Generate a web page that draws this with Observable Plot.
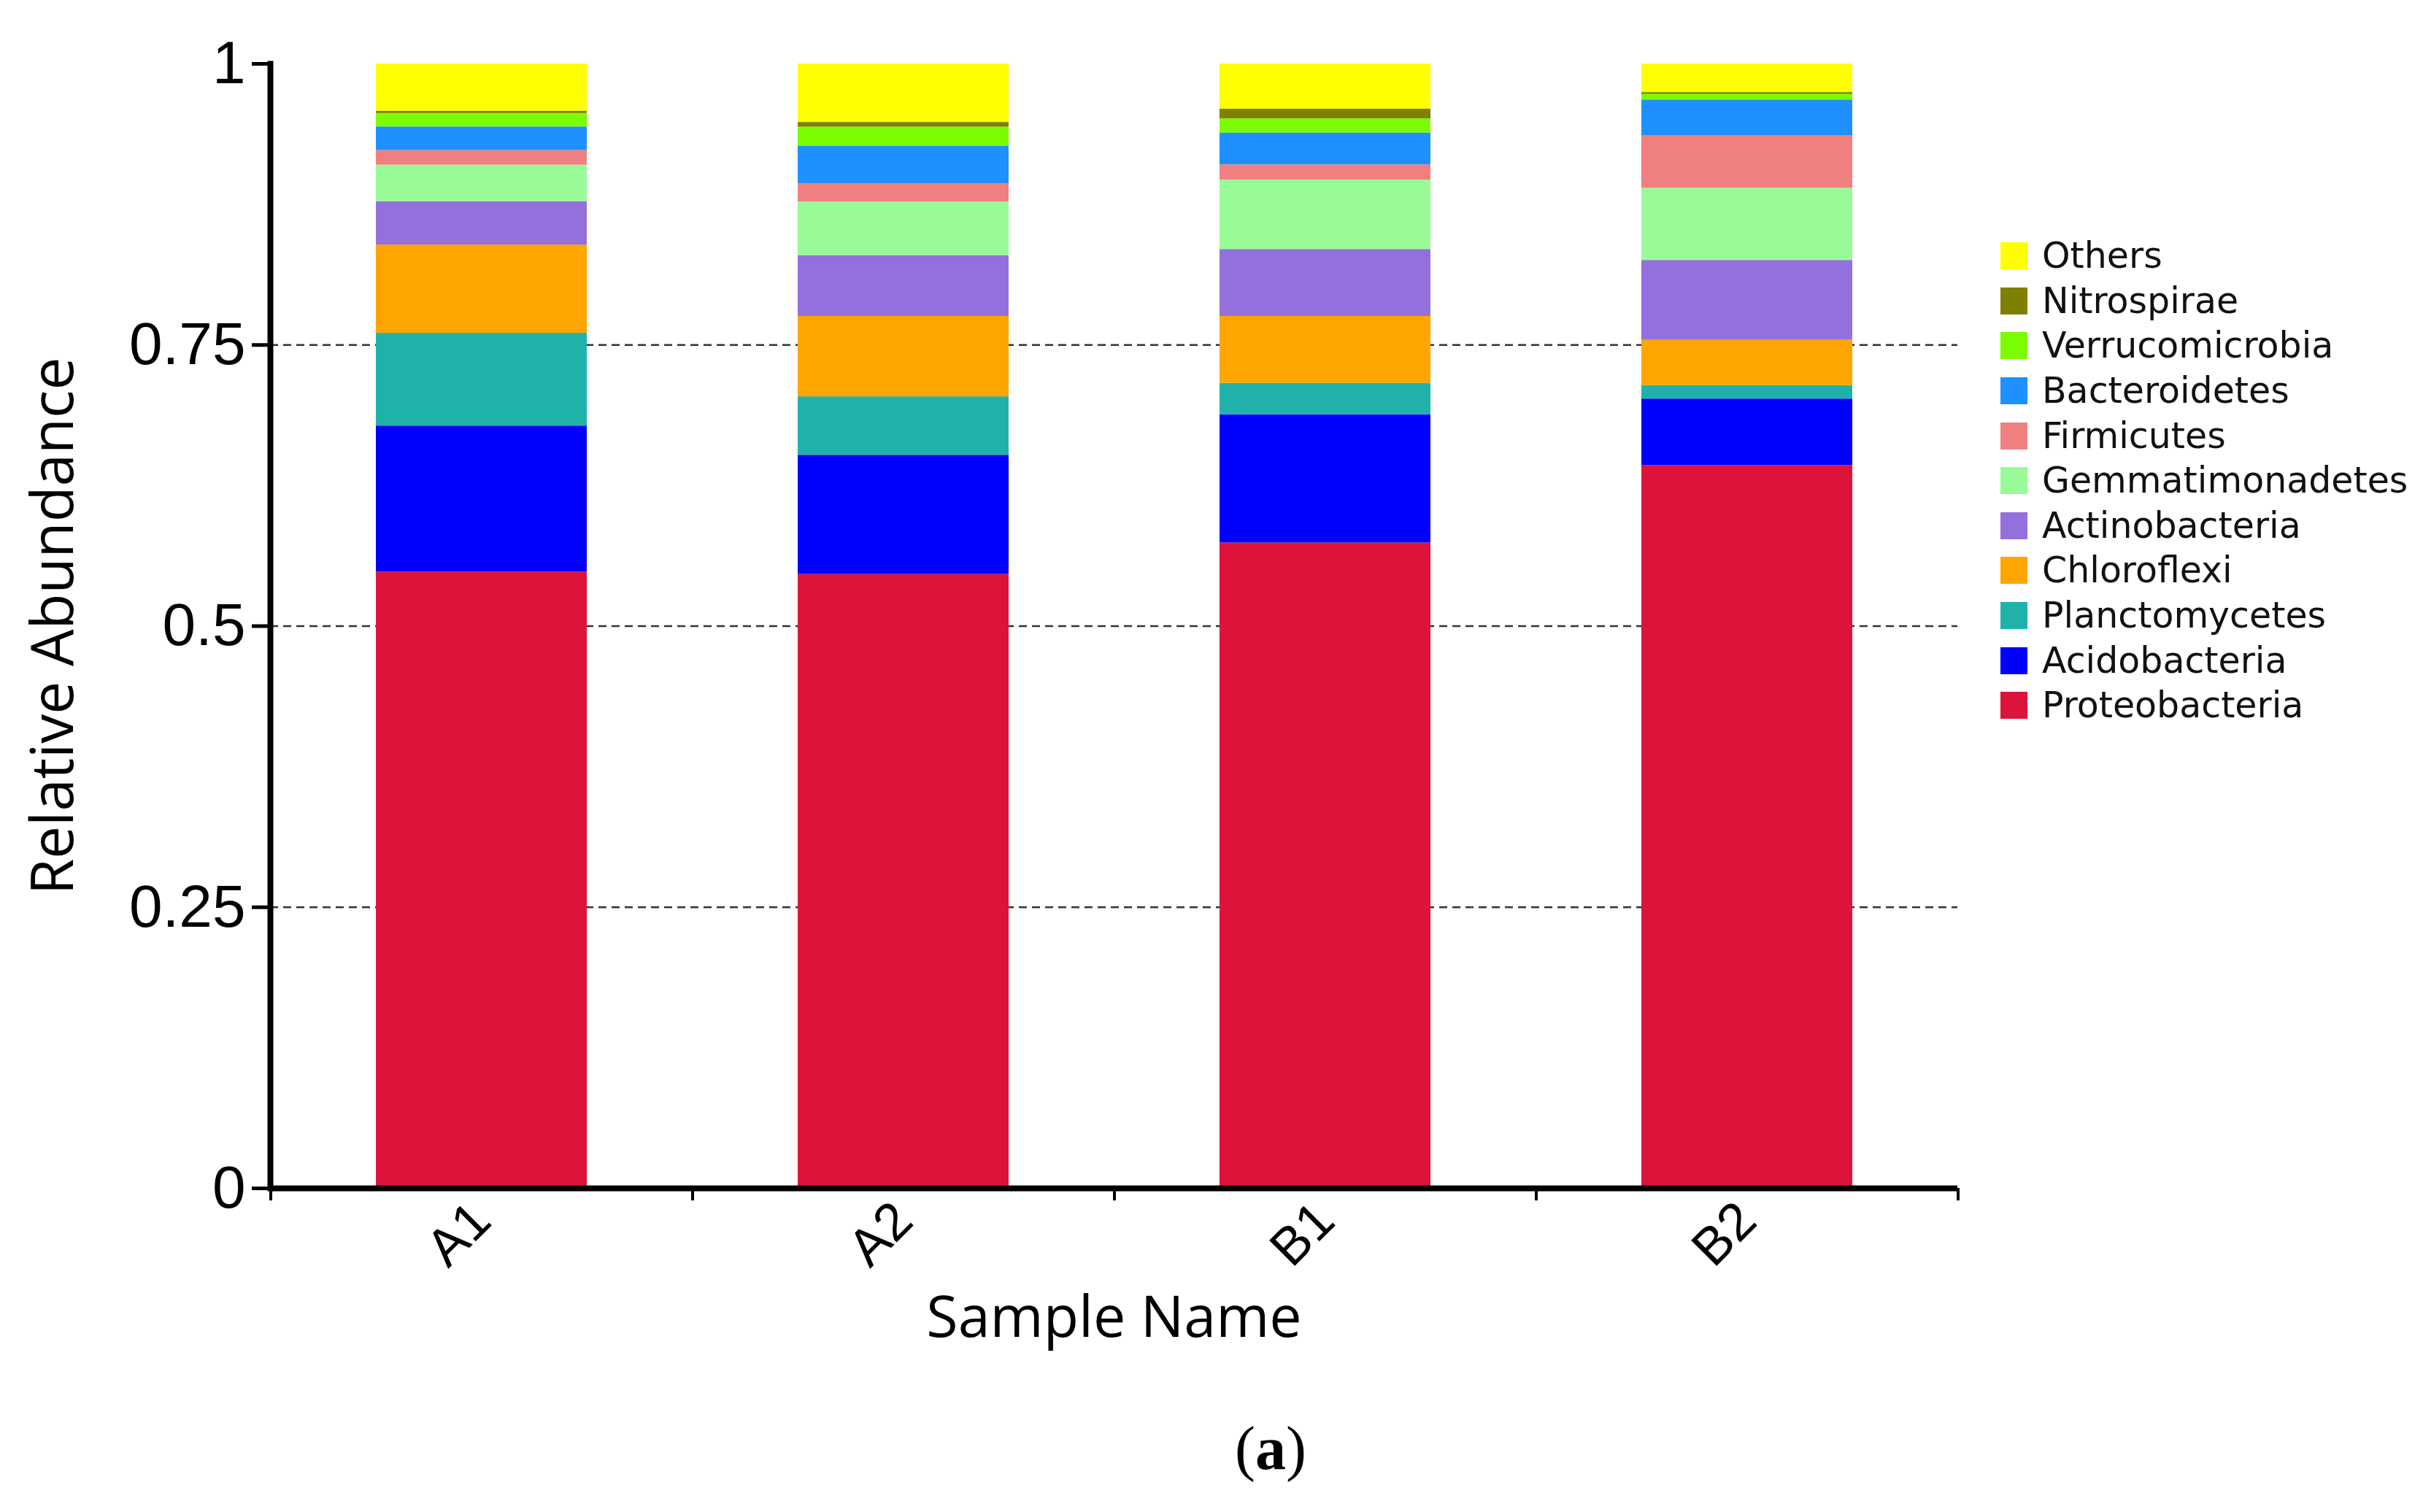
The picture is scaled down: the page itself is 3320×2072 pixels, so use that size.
<!DOCTYPE html>
<html><head><meta charset="utf-8">
<script src="https://cdn.jsdelivr.net/npm/d3@7"></script>
<script src="https://cdn.jsdelivr.net/npm/@observablehq/plot@0.6"></script>
<style>
body{margin:0;background:#fff}
#wrap{position:relative;width:3320px;height:2072px;background:#fff;overflow:hidden}
#chart{position:absolute;left:0;top:0}
#legend{position:absolute;left:2741px;top:320px}
.leg-swatches{margin:0 !important}
.leg-swatch{height:61.6px;padding-bottom:0 !important}
.leg-swatch > svg{margin-right:20px}
#caption{position:absolute;left:1541px;width:400px;top:1943px;text-align:center;font-family:"Liberation Serif";font-size:84px;line-height:1;color:#000}
</style></head><body>
<div id="wrap"><div id="chart"></div><div id="legend"></div><div id="caption">(<b>a</b>)</div></div>
<script>
const samples = ["A1","A2","B1","B2"];
const phyla = ["Proteobacteria","Acidobacteria","Planctomycetes","Chloroflexi","Actinobacteria","Gemmatimonadetes","Firmicutes","Bacteroidetes","Verrucomicrobia","Nitrospirae","Others"];
const colors = ["#DC143C","#0000FF","#20B2AA","#FFA500","#9370DB","#98FB98","#F08080","#1E90FF","#7CFC00","#808000","#FFFF00"];
const proteobacteria   = [0.548, 0.546, 0.574, 0.643];
const acidobacteria    = [0.130, 0.106, 0.114, 0.059];
const planctomycetes   = [0.0825, 0.052, 0.028, 0.012];
const chloroflexi      = [0.0785, 0.0715, 0.0595, 0.0403];
const actinobacteria   = [0.0386, 0.0541, 0.0595, 0.071];
const gemmatimonadetes = [0.0324, 0.0476, 0.0617, 0.0642];
const firmicutes       = [0.013, 0.0162, 0.0136, 0.0465];
const bacteroidetes    = [0.021, 0.0336, 0.0283, 0.032];
const verrucomicrobia  = [0.012, 0.0168, 0.0126, 0.0049];
const nitrospirae      = [0.002, 0.0042, 0.0087, 0.0017];
const others           = [0.042, 0.052, 0.0401, 0.0254];
const yTicks = [0, 0.25, 0.5, 0.75, 1];
const gridTicks = [0.25, 0.5, 0.75];
const yLabel = "Relative Abundance";
const xLabel = "Sample Name";

const series = [proteobacteria, acidobacteria, planctomycetes, chloroflexi, actinobacteria, gemmatimonadetes, firmicutes, bacteroidetes, verrucomicrobia, nitrospirae, others];
const table = [];
phyla.forEach((p, j) => samples.forEach((s, i) => table.push({sample: s, phylum: p, value: series[j][i]})));

const W = 3320, H = 1900, mL = 370, mR = 638, mT = 87, mB = 272;
const padIn = 0.5, padOut = 0.25;
const step = (W - mL - mR) / (samples.length - padIn + 2 * padOut);

const chart = Plot.plot({
  width: W, height: H, marginLeft: mL, marginRight: mR, marginTop: mT, marginBottom: mB,
  style: {fontFamily: "Liberation Sans", background: "#fff", overflow: "visible", color: "#000"},
  x: {domain: samples, paddingInner: padIn, paddingOuter: padOut, axis: null},
  y: {domain: [0, 1], axis: null},
  color: {domain: phyla, range: colors},
  marks: [
    Plot.ruleY(gridTicks, {stroke: "#333", strokeWidth: 2.5, strokeDasharray: "11,7"}),
    Plot.barY(table, {x: "sample", y: "value", fill: "phylum", order: phyla}),
    Plot.axisY({ticks: yTicks, tickFormat: d => String(d), tickSize: 25, tickPadding: 9, fontSize: 82, strokeWidth: 5, label: null}),
    Plot.axisX({tickSize: 0, tickRotate: -45, tickPadding: 32, fontSize: 72, label: null}),
    Plot.axisX({tickSize: 17, strokeWidth: 4, tickFormat: () => "", dx: -step / 2, label: null}),
    Plot.axisX({ticks: [samples[samples.length - 1]], tickSize: 17, strokeWidth: 4, tickFormat: () => "", dx: step / 2, label: null}),
    Plot.ruleY([0], {strokeWidth: 8}),
    Plot.frame({anchor: "left", strokeWidth: 8}),
    Plot.text([yLabel], {frameAnchor: "left", textAnchor: "middle", lineAnchor: "middle", rotate: -90, dx: -296, fontSize: 80, fontFamily: "Open Sans"}),
    Plot.text([xLabel], {frameAnchor: "bottom", textAnchor: "middle", lineAnchor: "middle", dy: 178, fontSize: 79, fontFamily: "Open Sans"})
  ]
});
document.getElementById("chart").appendChild(chart);

const legend = Plot.legend({
  color: {type: "ordinal", domain: phyla.slice().reverse(), range: colors.slice().reverse()},
  legend: "swatches", columns: 1, swatchSize: 37, className: "leg",
  style: {fontFamily: "DejaVu Sans", fontSize: "49px", width: "600px", color: "#111"}
});
document.getElementById("legend").appendChild(legend);
</script>
</body></html>
